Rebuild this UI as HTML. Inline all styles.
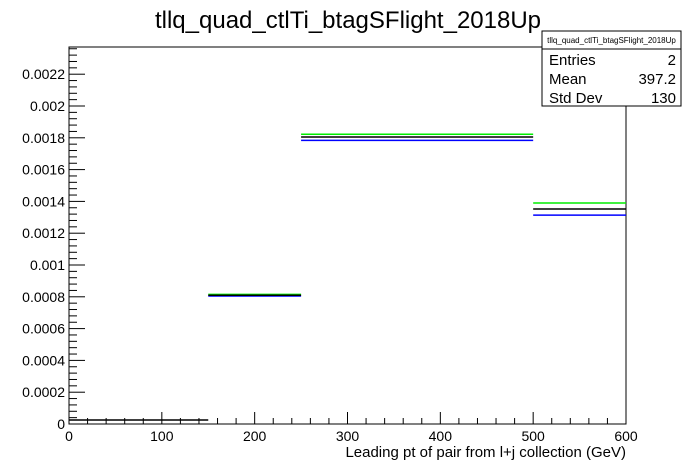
<!DOCTYPE html>
<html><head><meta charset="utf-8"><style>
body{margin:0;background:#fff;}
svg{display:block;font-family:"Liberation Sans",Arial,sans-serif;}
</style></head><body>
<svg id="c" width="696" height="472" viewBox="0 0 696 472">
<text x="348" y="28" font-size="24" text-anchor="middle">tllq_quad_ctlTi_btagSFlight_2018Up</text>
<g id="axes"></g>
<g id="marks"></g>
<text x="626" y="457" font-size="15" text-anchor="end">Leading pt of pair from l+j collection (GeV)</text>
<g>
<rect x="542" y="31" width="139" height="75" fill="#fff" stroke="#000" stroke-width="1"/>
<line x1="542" y1="49" x2="681" y2="49" stroke="#000"/>
<text x="611.5" y="43" font-size="8" text-anchor="middle">tllq_quad_ctlTi_btagSFlight_2018Up</text>
<text x="549" y="65" font-size="15">Entries</text><text x="676" y="65" font-size="15" text-anchor="end">2</text>
<text x="549" y="84" font-size="15">Mean</text><text x="676" y="84" font-size="15" text-anchor="end">397.2</text>
<text x="549" y="103" font-size="15">Std Dev</text><text x="676" y="103" font-size="15" text-anchor="end">130</text>
</g>
</svg>
<script>
const binEdges=[0,150,250,500,600];
const nominal=[0.000025,0.00081,0.001805,0.001352];
const upVar=[0,0.000815,0.001822,0.00139];
const downVar=[0,0.000805,0.001784,0.001314];
const xTicks=[0,100,200,300,400,500,600];
const yTicks=[0,0.0002,0.0004,0.0006,0.0008,0.001,0.0012,0.0014,0.0016,0.0018,0.002,0.0022];
const yTickLabels=["0","0.0002","0.0004","0.0006","0.0008","0.001","0.0012","0.0014","0.0016","0.0018","0.002","0.0022"];
const X0=69,X1=626,Y0=424,YT=47,XMAX=600,YMAX=(424-47)/31.8*0.0002;
const sx=v=>X0+v/XMAX*(X1-X0);
const sy=v=>Y0-v/YMAX*(Y0-YT);
const NS="http://www.w3.org/2000/svg";
const ax=document.getElementById('axes'),mk=document.getElementById('marks');
function ln(p,x1,y1,x2,y2,c,w){const l=document.createElementNS(NS,'line');l.setAttribute('x1',x1);l.setAttribute('y1',y1);l.setAttribute('x2',x2);l.setAttribute('y2',y2);l.setAttribute('stroke',c);l.setAttribute('stroke-width',w||1);p.appendChild(l);return l;}
function series(vals,color,name){for(let i=0;i<vals.length;i++){if(vals[i]<=0)continue;const l=ln(mk,sx(binEdges[i]),sy(vals[i]),sx(binEdges[i+1]),sy(vals[i]),color,1.5);

}}
series(upVar,'#00ee00','up-variation');
series(downVar,'#0000ff','down-variation');
series(nominal,'#000000','nominal');
const fr=document.createElementNS(NS,'rect');
fr.setAttribute('x',X0);fr.setAttribute('y',YT);fr.setAttribute('width',X1-X0);fr.setAttribute('height',Y0-YT);
fr.setAttribute('fill','none');fr.setAttribute('stroke','#000');


ax.appendChild(fr);
for(let v=0;v<=XMAX+0.1;v+=20){const major=Math.abs(v%100)<0.01;const t=ln(ax,sx(v),Y0,sx(v),Y0-(major?12:6),'#000');

}
xTicks.forEach(v=>{const t=document.createElementNS(NS,'text');t.setAttribute('x',sx(v));t.setAttribute('y',Y0+17);t.setAttribute('font-size','14');t.setAttribute('text-anchor','middle');t.textContent=String(v);


ax.appendChild(t);});
for(let v=0;v<=YMAX;v+=0.00004){const major=Math.abs(v/0.0002-Math.round(v/0.0002))<0.01;const t=ln(ax,X0,sy(v),X0+(major?16:8),sy(v),'#000');

}
yTicks.forEach((v,i)=>{const t=document.createElementNS(NS,'text');t.setAttribute('x',X0-4);t.setAttribute('y',sy(v)+5);t.setAttribute('font-size','14');t.setAttribute('text-anchor','end');t.textContent=yTickLabels[i];


ax.appendChild(t);});
</script>
</body></html>
